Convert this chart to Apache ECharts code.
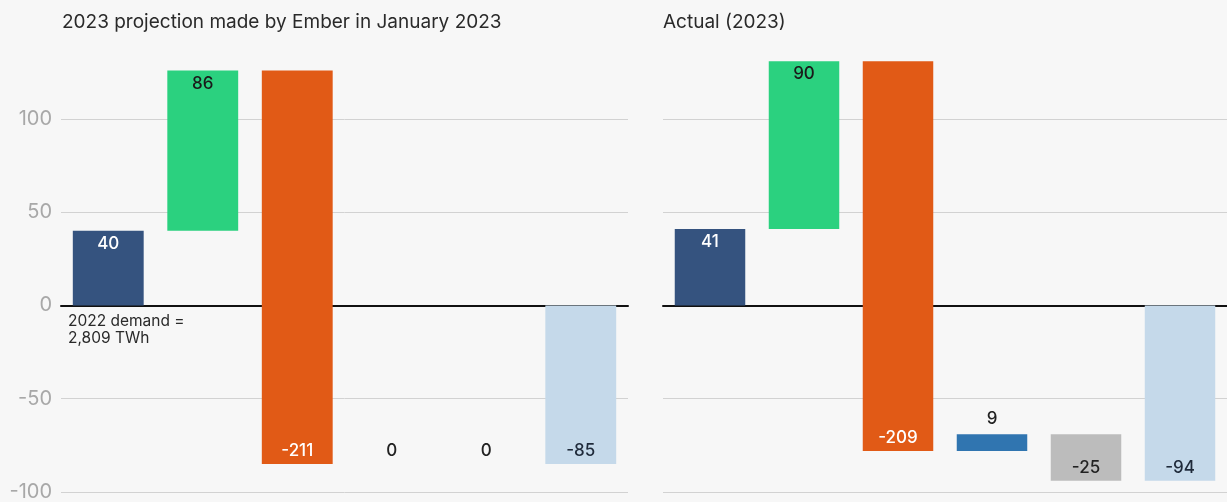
<!DOCTYPE html>
<html>
<head>
<meta charset="utf-8">
<script src="https://cdn.jsdelivr.net/npm/echarts@6/dist/echarts.min.js"></script>
<style>
html,body{margin:0;padding:0;background:#f7f7f7;}
#c{width:1227px;height:502px;}
</style>
</head>
<body>
<div id="c"></div>
<script>
// ---- data ----
const categories = ["Demand", "Wind & solar", "Fossil", "Hydro", "Nuclear", "Net change"];
const projectionValues = [40, 86, -211, 0, 0, -85];   // last one = net total
const actualValues = [41, 90, -209, 9, -25, -94];      // last one = net total
const yTicks = [-100, -50, 0, 50, 100];
const panelTitles = ["2023 projection made by Ember in January 2023", "Actual (2023)"];
const noteText = "2022 demand =\n2,809 TWh";

// ---- styles ----
const barColors = ["#35537f", "#2bd17f", "#e15a16", "#3075b0", "#bcbcbc", "#c5d9ea"];
const labelColors = ["#ffffff", "#1a1a1a", "#ffffff", "#222222", "#222222", "#1f2a3a"];
const FONT = "Inter";

function buildWaterfall(values) {
  const out = [];
  let run = 0;
  values.forEach((v, i) => {
    if (i === values.length - 1) {
      out.push([i, 0, v, v]);
    } else {
      out.push([i, run, run + v, v]);
      run += v;
    }
  });
  return out;
}

function renderItem(params, api) {
  const i = api.value(0), s = api.value(1), e = api.value(2), d = api.value(3);
  const p0 = api.coord([i, s]);
  const p1 = api.coord([i, e]);
  const w = api.size([1, 0])[0] * 0.75;
  const top = Math.min(p0[1], p1[1]);
  const bot = Math.max(p0[1], p1[1]);
  const h = bot - top;
  const outside = d > 0 && h < 28;
  let ty;
  if (d > 0) {
    ty = outside ? top - 15 : top + 13;
  } else {
    ty = bot - 13;
  }
  const children = [];
  if (h > 0) {
    children.push({
      type: 'rect',
      shape: { x: p0[0] - w / 2, y: top, width: w, height: h },
      style: { fill: barColors[i] }
    });
  }
  children.push({
    type: 'text',
    style: {
      text: String(d),
      x: p0[0], y: ty,
      align: 'center', verticalAlign: 'middle',
      fill: (h === 0 || outside) ? '#222222' : labelColors[i],
      font: '500 17px ' + FONT
    }
  });
  return { type: 'group', children };
}

const gridTop = 63, gridHeight = 429;
const yMin = -100, yMax = 130;

function yAxisCfg(idx, showLabels) {
  return {
    type: 'value', gridIndex: idx, min: yMin, max: yMax, interval: 50,
    axisLine: { show: false }, axisTick: { show: false },
    axisLabel: {
      show: showLabels, color: '#a8a8a8', fontSize: 20, fontFamily: FONT,
      margin: 9, showMaxLabel: false
    },
    splitLine: { show: true, showMaxLine: false, lineStyle: { color: '#d2d2d2', width: 1 } }
  };
}
function xAxisCfg(idx) {
  return {
    type: 'category', gridIndex: idx, data: categories,
    axisLine: { show: true, onZero: true, lineStyle: { color: '#111', width: 2 } },
    axisTick: { show: false }, axisLabel: { show: false },
    splitLine: { show: false }
  };
}

const chart = echarts.init(document.getElementById('c'), null, { renderer: 'canvas' });
chart.setOption({
  backgroundColor: '#f7f7f7',
  animation: false,
  title: [
    { text: panelTitles[0], left: 57, top: 8, textStyle: { fontSize: 19, fontWeight: 'normal', color: '#2a2a2a', fontFamily: FONT } },
    { text: panelTitles[1], left: 658, top: 8, textStyle: { fontSize: 19, fontWeight: 'normal', color: '#2a2a2a', fontFamily: FONT } }
  ],
  grid: [
    { left: 61, top: gridTop, width: 567, height: gridHeight },
    { left: 663, top: gridTop, width: 567, height: gridHeight }
  ],
  xAxis: [xAxisCfg(0), xAxisCfg(1)],
  yAxis: [yAxisCfg(0, true), yAxisCfg(1, false)],
  series: [
    { type: 'custom', xAxisIndex: 0, yAxisIndex: 0, renderItem, data: buildWaterfall(projectionValues), encode: { x: 0, y: [1, 2] }, z: 1 },
    { type: 'custom', xAxisIndex: 1, yAxisIndex: 1, renderItem, data: buildWaterfall(actualValues), encode: { x: 0, y: [1, 2] }, z: 1 }
  ],
  graphic: [
    { type: 'text', left: 68, top: 313, z: 10,
      style: { text: noteText, fill: '#2a2a2a', font: '15.5px ' + FONT, lineHeight: 17 } }
  ]
});
</script>
</body>
</html>
